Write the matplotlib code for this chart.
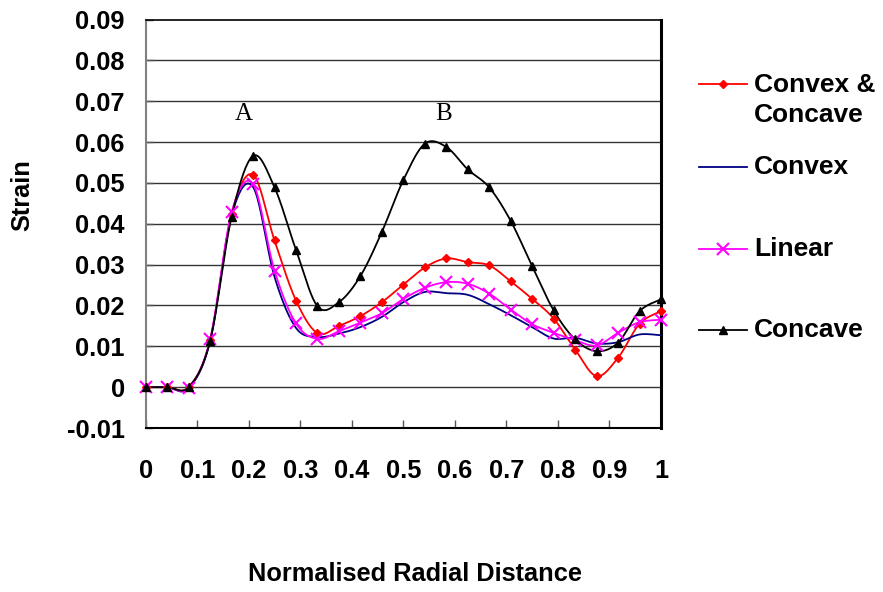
import numpy as np
import matplotlib
matplotlib.use("Agg")
import matplotlib.pyplot as plt
from matplotlib.lines import Line2D

plt.rcParams['font.family'] = ['Liberation Sans', 'DejaVu Sans']

# ---- data ----
x_vals = [i / 24 for i in range(25)]
convex_concave = [0, 0, 0, 0.0115, 0.0424, 0.0520, 0.0359, 0.0212, 0.0132, 0.0150,
                  0.0174, 0.0208, 0.0251, 0.0293, 0.0315, 0.0306, 0.0298, 0.0259,
                  0.0216, 0.0168, 0.0092, 0.0027, 0.0072, 0.0155, 0.0186]
convex = [0, 0, -0.0003, 0.0113, 0.0420, 0.0490, 0.0270, 0.0145, 0.0123, 0.0131,
          0.0147, 0.0172, 0.0208, 0.0233, 0.0230, 0.0226, 0.0203, 0.0176,
          0.0147, 0.0119, 0.0121, 0.0107, 0.0110, 0.0129, 0.0127]
linear = [0, 0, -0.0002, 0.0117, 0.0428, 0.0497, 0.0285, 0.0156, 0.0118, 0.0137,
          0.0158, 0.0181, 0.0216, 0.0243, 0.0257, 0.0253, 0.0229, 0.0190,
          0.0154, 0.0133, 0.0115, 0.0102, 0.0133, 0.0159, 0.0165]
concave = [0, 0, 0, 0.0113, 0.0417, 0.0566, 0.0489, 0.0336, 0.0198, 0.0208,
           0.0272, 0.0380, 0.0507, 0.0596, 0.0588, 0.0533, 0.0489, 0.0407,
           0.0296, 0.0188, 0.0117, 0.0088, 0.0109, 0.0186, 0.0215]
series_names = ["Convex &\nConcave", "Convex", "Linear", "Concave"]
xticks = [0, 0.1, 0.2, 0.3, 0.4, 0.5, 0.6, 0.7, 0.8, 0.9, 1]
xtick_labels = ["0", "0.1", "0.2", "0.3", "0.4", "0.5", "0.6", "0.7", "0.8", "0.9", "1"]
yticks = [-0.01, 0, 0.01, 0.02, 0.03, 0.04, 0.05, 0.06, 0.07, 0.08, 0.09]
ytick_labels = ["-0.01", "0", "0.01", "0.02", "0.03", "0.04", "0.05", "0.06", "0.07", "0.08", "0.09"]
annotations = [("A", 0.190, 0.0668), ("B", 0.579, 0.0668)]


def smooth(xs, ys, n=20):
    """Excel-like smoothing: Catmull-Rom via cubic Bezier."""
    xs = np.asarray(xs, float)
    ys = np.asarray(ys, float)
    P = np.column_stack([xs, ys])
    out = []
    for i in range(len(P) - 1):
        p0 = P[i - 1] if i > 0 else P[i]
        p1 = P[i]
        p2 = P[i + 1]
        p3 = P[i + 2] if i + 2 < len(P) else P[i + 1]
        c1 = p1 + (p2 - p0) / 6
        c2 = p2 - (p3 - p1) / 6
        t = np.linspace(0, 1, n, endpoint=False)[:, None]
        b = ((1 - t) ** 3) * p1 + 3 * ((1 - t) ** 2) * t * c1 + 3 * (1 - t) * t ** 2 * c2 + t ** 3 * p2
        out.append(b)
    out.append(P[-1:])
    B = np.vstack(out)
    return B[:, 0], B[:, 1]


W, H = 883, 592
fig = plt.figure(figsize=(W / 100, H / 100), dpi=100)
L, R, T, Bt = 145.7, 661, 19.5, 428
ax = fig.add_axes([L / W, 1 - Bt / H, (R - L) / W, (Bt - T) / H])

FS = 18.3
LFS = 19

styles = [
    dict(color="#FF0000", marker="D", ms=4.5, mew=1, lw=1.3),
    dict(color="#000080", marker=None, ms=0, mew=0, lw=1.3),
    dict(color="#FF00FF", marker="x", ms=8, mew=1.5, lw=1.3),
    dict(color="#000000", marker="^", ms=6, mew=1, lw=1.3),
]
all_series = [convex_concave, convex, linear, concave]

for ys, st in zip(all_series, styles):
    sx, sy = smooth(x_vals, ys)
    ax.plot(sx, sy, color=st["color"], lw=st["lw"], zorder=3, clip_on=False)
    if st["marker"]:
        ax.plot(x_vals, ys, ls="none", marker=st["marker"], ms=st["ms"],
                mew=st["mew"], color=st["color"], mfc=st["color"], mec=st["color"],
                zorder=4, clip_on=False)

ax.set_xlim(0, 1)
ax.set_ylim(-0.01, 0.09)
ax.set_xticks(xticks)
ax.set_xticklabels(xtick_labels)
ax.set_yticks(yticks)
ax.set_yticklabels(ytick_labels)
for lab in ax.get_xticklabels() + ax.get_yticklabels():
    lab.set_fontweight("bold")
    lab.set_fontsize(FS)
ax.tick_params(axis="x", direction="in", length=5.5, width=1, pad=22.5, color="#555555")
ax.tick_params(axis="y", direction="in", length=5, width=1, pad=15, color="#555555")

for yv in yticks[1:-1]:
    ax.axhline(yv, color="#333333", lw=1.0, zorder=1)

ax.spines["left"].set_color("#808080")
ax.spines["left"].set_linewidth(1.5)
ax.spines["top"].set_color("#000000")
ax.spines["top"].set_linewidth(1.2)
ax.spines["right"].set_color("#000000")
ax.spines["right"].set_linewidth(2.2)
ax.spines["bottom"].set_color("#000000")
ax.spines["bottom"].set_linewidth(1.5)

for txt, xa, ya in annotations:
    ax.text(xa, ya, txt, ha="center", va="center", fontsize=18,
            family=["Liberation Serif", "DejaVu Serif"], zorder=5)

fig.text(415 / W, 1 - 574 / H, "Normalised Radial Distance", ha="center", va="center",
         fontsize=FS, fontweight="bold")
fig.text(22 / W, 1 - 195 / H, "Strain", ha="center", va="center", rotation=90,
         fontsize=FS, fontweight="bold")

# legend (manual)
leg_y = [84, 167, 249, 330]
text_y = [100, 167, 249, 330]
for name, st, hy, ty in zip(series_names, styles, leg_y, text_y):
    fy = 1 - hy / H
    fig.add_artist(Line2D([699 / W, 747 / W], [fy, fy], color=st["color"], lw=1.3,
                          transform=fig.transFigure))
    if st["marker"]:
        fig.add_artist(Line2D([723 / W], [fy], marker=st["marker"], ms=st["ms"],
                              mew=st["mew"], color=st["color"], mfc=st["color"],
                              mec=st["color"], transform=fig.transFigure))
    fig.text(754 / W, 1 - ty / H, name, ha="left", va="center", fontsize=LFS,
             fontweight="bold", linespacing=1.35)

fig.savefig("out.png", dpi=100)
